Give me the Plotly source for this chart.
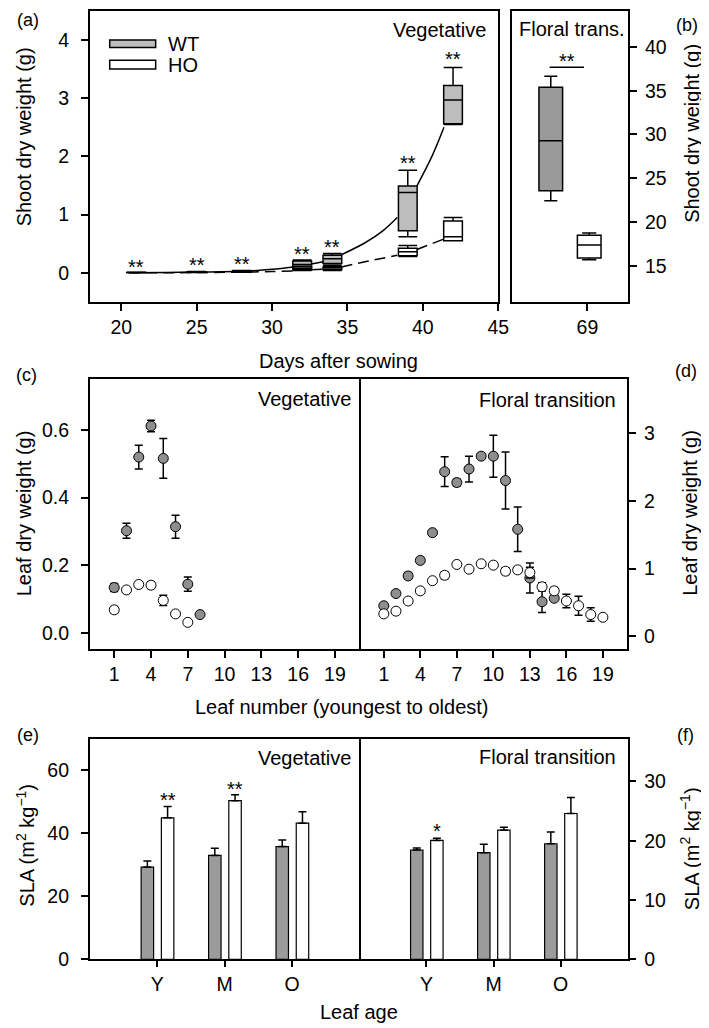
import plotly.graph_objects as go

W, H = 709, 1028
FONT = "Liberation Sans, Arial, sans-serif"


def px(x):
    return x / W


def py(y):
    return 1 - y / H


# ---------------- data ----------------
# (a) vegetative shoot dry weight (g), box statistics per day after sowing
a_days = [21, 25, 28, 32, 34, 39, 42]
a_wt_low = [0.003, 0.012, 0.025, 0.07, 0.15, 0.62, 2.55]
a_wt_q1 = [0.004, 0.014, 0.028, 0.08, 0.16, 0.72, 2.56]
a_wt_med = [0.005, 0.016, 0.032, 0.14, 0.24, 1.38, 2.97]
a_wt_q3 = [0.006, 0.018, 0.036, 0.20, 0.30, 1.49, 3.22]
a_wt_high = [0.007, 0.020, 0.040, 0.22, 0.33, 1.76, 3.53]
a_ho_low = [0.002, 0.005, 0.010, 0.04, 0.04, 0.28, 0.55]
a_ho_q1 = [0.002, 0.006, 0.011, 0.05, 0.05, 0.29, 0.55]
a_ho_med = [0.003, 0.006, 0.013, 0.07, 0.08, 0.36, 0.62]
a_ho_q3 = [0.003, 0.007, 0.015, 0.10, 0.10, 0.42, 0.89]
a_ho_high = [0.004, 0.008, 0.016, 0.11, 0.12, 0.47, 0.95]
a_sig_y = [0.186, 0.215, 0.244, 0.414, 0.526, 1.967, 3.76]

# fitted growth curves (hidden where they pass behind boxes)
fit_wt_days = [20.5, 23, 25, 28, 30, 31.4, None, 32.6, 33.4, None, 34.6, 36.2, 37.3, 38.3, None, 39.6, 40.6, 41.4]
fit_wt_vals = [0.0, 0.005, 0.012, 0.025, 0.06, 0.10, None, 0.15, 0.19, None, 0.31, 0.52, 0.71, 0.95, None, 1.49, 2.0, 2.5]
fit_ho_days = [20.5, 25, 28, 30, 31.4, None, 32.6, 33.4, None, 34.6, 36.4, 38.3, None, 39.6, 41.4]
fit_ho_vals = [0.0, 0.003, 0.01, 0.02, 0.03, None, 0.05, 0.06, None, 0.10, 0.20, 0.30, None, 0.40, 0.58]

# (b) floral transition shoot dry weight (g), day 69
b_pos = [68.37, 69.03]
b_low = [22.45, 15.7]
b_q1 = [23.57, 15.9]
b_med = [29.3, 17.4]
b_q3 = [35.4, 18.5]
b_high = [36.65, 18.76]
b_sig_x = [68.35, 68.94]
b_sig_y = [37.67, 37.67]

# (c) vegetative leaf dry weight (g)
c_wt_leaf = [1, 2, 3, 4, 5, 6, 7, 8]
c_wt_val = [0.134, 0.302, 0.52, 0.612, 0.516, 0.314, 0.144, 0.054]
c_wt_err = [0.012, 0.022, 0.035, 0.017, 0.059, 0.034, 0.021, 0.005]
c_ho_leaf = [1, 2, 3, 4, 5, 6, 7]
c_ho_val = [0.068, 0.127, 0.143, 0.141, 0.096, 0.056, 0.031]
c_ho_err = [0.010, 0.005, 0.008, 0.010, 0.015, 0.005, 0.004]

# (d) floral transition leaf dry weight (g)
d_wt_leaf = list(range(1, 16))
d_wt_val = [0.45, 0.63, 0.89, 1.12, 1.53, 2.43, 2.27, 2.47, 2.66, 2.66, 2.30, 1.58, 0.86, 0.51, 0.56]
d_wt_err = [0.03, 0.04, 0.05, 0.03, 0.03, 0.22, 0.05, 0.19, 0.03, 0.31, 0.42, 0.33, 0.22, 0.16, 0.03]
d_ho_leaf = list(range(1, 20))
d_ho_val = [0.33, 0.37, 0.52, 0.67, 0.82, 0.90, 1.06, 0.99, 1.07, 1.05, 0.96, 0.98, 0.94, 0.73, 0.67, 0.52, 0.45, 0.32, 0.28]
d_ho_err = [0.02, 0.02, 0.02, 0.02, 0.02, 0.05, 0.03, 0.02, 0.02, 0.02, 0.05, 0.04, 0.08, 0.06, 0.05, 0.10, 0.14, 0.10, 0.02]

# (e)/(f) SLA (m2 kg-1) by leaf age
ages = ["Y", "M", "O"]
e_wt = [29.2, 32.9, 35.7]
e_wt_err = [1.9, 2.3, 2.1]
e_ho = [44.8, 50.2, 43.1]
e_ho_err = [3.6, 1.9, 3.6]
e_sig = ["**", "**", ""]
e_sig_y = [52.1, 55.5, 0]
f_wt = [18.45, 18.0, 19.5]
f_wt_err = [0.35, 1.4, 2.0]
f_ho = [20.06, 21.8, 24.6]
f_ho_err = [0.35, 0.5, 2.7]
f_sig = ["*", "", ""]
f_sig_y = [22.5, 0, 0]

# ---------------- styles ----------------
GREY_BOX_A = "#bdbdbd"
GREY_BOX_B = "#9a9a9a"
GREY_MARK = "#8e8e8e"
GREY_BAR = "#9b9b9b"
LW = 1.5

fig = go.Figure()

# (a) boxes
fig.add_trace(go.Box(x=a_days, q1=a_wt_q1, median=a_wt_med, q3=a_wt_q3,
                     lowerfence=a_wt_low, upperfence=a_wt_high, width=1.24,
                     fillcolor=GREY_BOX_A, line=dict(color="black", width=LW),
                     whiskerwidth=1, boxpoints=False, showlegend=False,
                     xaxis="x", yaxis="y"))
fig.add_trace(go.Box(x=a_days, q1=a_ho_q1, median=a_ho_med, q3=a_ho_q3,
                     lowerfence=a_ho_low, upperfence=a_ho_high, width=1.24,
                     fillcolor="white", line=dict(color="black", width=LW),
                     whiskerwidth=1, boxpoints=False, showlegend=False,
                     xaxis="x", yaxis="y"))
fig.add_trace(go.Scatter(x=fit_wt_days, y=fit_wt_vals, mode="lines",
                         line=dict(color="black", width=1.5, shape="spline"),
                         connectgaps=False, showlegend=False, xaxis="x", yaxis="y"))
fig.add_trace(go.Scatter(x=fit_ho_days, y=fit_ho_vals, mode="lines",
                         line=dict(color="black", width=1.5, shape="spline", dash="11px,6px"),
                         connectgaps=False, showlegend=False, xaxis="x", yaxis="y"))

# (b) boxes
fig.add_trace(go.Box(x=[b_pos[0]], q1=[b_q1[0]], median=[b_med[0]], q3=[b_q3[0]],
                     lowerfence=[b_low[0]], upperfence=[b_high[0]], width=0.406,
                     fillcolor=GREY_BOX_B, line=dict(color="black", width=LW),
                     whiskerwidth=0.55, boxpoints=False, showlegend=False,
                     xaxis="x2", yaxis="y2"))
fig.add_trace(go.Box(x=[b_pos[1]], q1=[b_q1[1]], median=[b_med[1]], q3=[b_q3[1]],
                     lowerfence=[b_low[1]], upperfence=[b_high[1]], width=0.406,
                     fillcolor="white", line=dict(color="black", width=LW),
                     whiskerwidth=0.6, boxpoints=False, showlegend=False,
                     xaxis="x2", yaxis="y2"))
fig.add_trace(go.Scatter(x=b_sig_x, y=b_sig_y, mode="lines",
                         line=dict(color="black", width=1.5),
                         showlegend=False, xaxis="x2", yaxis="y2"))


def pts(x, y, err, color, xa, ya):
    return go.Scatter(x=x, y=y, mode="markers",
                      marker=dict(size=10, color=color, line=dict(color="black", width=1)),
                      error_y=dict(type="data", array=err, color="black", thickness=1.5, width=4),
                      showlegend=False, xaxis=xa, yaxis=ya)


fig.add_trace(pts(c_wt_leaf, c_wt_val, c_wt_err, GREY_MARK, "x3", "y3"))
fig.add_trace(pts(c_ho_leaf, c_ho_val, c_ho_err, "white", "x3", "y3"))
fig.add_trace(pts(d_wt_leaf, d_wt_val, d_wt_err, GREY_MARK, "x4", "y4"))
fig.add_trace(pts(d_ho_leaf, d_ho_val, d_ho_err, "white", "x4", "y4"))


def bars(y, err, color, offset, xa, ya):
    return go.Bar(x=ages, y=y, width=0.185, offset=offset,
                  marker=dict(color=color, line=dict(color="black", width=1.2)),
                  error_y=dict(type="data", array=err, arrayminus=[0] * len(err),
                               symmetric=False, color="black", thickness=1.5, width=4),
                  showlegend=False, xaxis=xa, yaxis=ya)


fig.add_trace(bars(e_wt, e_wt_err, GREY_BAR, -0.2375, "x5", "y5"))
fig.add_trace(bars(e_ho, e_ho_err, "white", 0.0625, "x5", "y5"))
fig.add_trace(bars(f_wt, f_wt_err, GREY_BAR, -0.2375, "x6", "y6"))
fig.add_trace(bars(f_ho, f_ho_err, "white", 0.0625, "x6", "y6"))

# ---------------- axes ----------------
tickfont = dict(family=FONT, size=19.5, color="black")


def ax(**kw):
    base = dict(showline=True, linecolor="black", linewidth=LW, mirror=True,
                ticks="outside", ticklen=7, tickwidth=LW, tickcolor="black",
                showgrid=False, zeroline=False, tickfont=tickfont,
                ticklabelstandoff=0)
    base.update(kw)
    return base


ya_dom = [py(297), py(3)]
yc_dom = [py(648), py(375)]
ye_dom = [py(961.7), py(739.3)]

fig.update_layout(
    xaxis=ax(domain=[px(83), px(498)], range=[17.91, 45], tickvals=[20, 25, 30, 35, 40, 45], anchor="y"),
    yaxis=ax(domain=ya_dom, range=[-0.5, 4.5], tickvals=[0, 1, 2, 3, 4], anchor="x", ticklabelstandoff=8),
    xaxis2=ax(domain=[px(511.7), px(630)], range=[67.7, 69.7], tickvals=[69], anchor="y2"),
    yaxis2=ax(domain=ya_dom, range=[10.9, 44.1], tickvals=[15, 20, 25, 30, 35, 40], side="right", anchor="x2",
              ticklabelstandoff=4),
    xaxis3=ax(domain=[px(83), px(357)], range=[-1, 21], tickvals=[1, 4, 7, 10, 13, 16, 19], anchor="y3"),
    yaxis3=ax(domain=yc_dom, range=[-0.048, 0.751], tickvals=[0, 0.2, 0.4, 0.6], tickformat=".1f", anchor="x3",
              ticklabelstandoff=8),
    xaxis4=ax(domain=[px(357), px(629)], range=[-1, 21], tickvals=[1, 4, 7, 10, 13, 16, 19], anchor="y4"),
    yaxis4=ax(domain=yc_dom, range=[-0.19, 3.8], tickvals=[0, 1, 2, 3], side="right", anchor="x4",
              mirror=False, ticklabelstandoff=4),
    xaxis5=ax(domain=[px(83), px(357)], range=[-1, 3], type="category", anchor="y5", ticklen=6),
    yaxis5=ax(domain=ye_dom, range=[0, 69.6], tickvals=[0, 20, 40, 60], anchor="x5", ticklabelstandoff=8),
    xaxis6=ax(domain=[px(357), px(629.3)], range=[-1, 3], type="category", anchor="y6", ticklen=6),
    yaxis6=ax(domain=ye_dom, range=[0, 37.1], tickvals=[0, 10, 20, 30], side="right", anchor="x6",
              mirror=False, ticklabelstandoff=4),
    width=W, height=H,
    margin=dict(l=0, r=0, t=0, b=0),
    paper_bgcolor="white", plot_bgcolor="white",
    boxmode="overlay", barmode="overlay",
    font=dict(family=FONT, size=20, color="black"),
)

# ---------------- annotations ----------------
ann = []


def text(x, y, t, size=20, xanchor="center", angle=0, xref="paper", yref="paper", yshift=0):
    ann.append(dict(x=x, y=y, text=t, xref=xref, yref=yref, showarrow=False,
                    xanchor=xanchor, yanchor="middle", textangle=angle, yshift=yshift,
                    font=dict(family=FONT, size=size, color="black")))


# panel labels
text(px(20), py(12), "(a)", 18)
text(px(690), py(17), "(b)", 18)
text(px(19), py(371), "(c)", 18)
text(px(689), py(367), "(d)", 18)
text(px(20), py(735), "(e)", 18)
text(px(688), py(735), "(f)", 18)

# axis titles
text(px(16), py(130), "Shoot dry weight (g)", angle=-90)
text(px(694), py(127), "Shoot dry weight (g)", angle=-90)
text(px(336), py(357), "Days after sowing")
text(px(16), py(511), "Leaf dry weight (g)", angle=-90)
text(px(692), py(510), "Leaf dry weight (g)", angle=-90)
text(px(339), py(707), "Leaf number (youngest to oldest)")
text(px(18), py(846), "SLA (m<sup>2</sup> kg<sup>−1</sup>)", angle=-90)
text(px(693), py(850), "SLA (m<sup>2</sup> kg<sup>−1</sup>)", angle=-90)
text(px(357), py(1015), "Leaf age")

# stage labels
text(px(488), py(22), "Vegetative", xanchor="right")
text(px(573), py(21), "Floral trans.")
text(px(350), py(395), "Vegetative", xanchor="right")
text(px(620), py(396), "Floral transition", xanchor="right")
text(px(350), py(758), "Vegetative", xanchor="right")
text(px(620), py(757), "Floral transition", xanchor="right")

# significance marks
for d, yv in zip(a_days, a_sig_y):
    text(d, yv, "**", xref="x", yref="y", yshift=-5)
text(68.65, 38.99, "**", xref="x2", yref="y2", yshift=-5)
for i, (s, yv) in enumerate(zip(e_sig, e_sig_y)):
    if s:
        text(i + 0.155, yv, s, xref="x5", yref="y5", yshift=-5)
for i, (s, yv) in enumerate(zip(f_sig, f_sig_y)):
    if s:
        text(i + 0.155, yv, s, xref="x6", yref="y6", yshift=-5)

# legend (panel a)
text(px(160), py(36), "WT", xanchor="left")
text(px(160), py(57.5), "HO", xanchor="left")
shapes = [
    dict(type="rect", xref="paper", yref="paper", x0=px(103.3), x1=px(150), y0=py(40), y1=py(32.3),
         fillcolor=GREY_BOX_A, line=dict(color="black", width=LW)),
    dict(type="rect", xref="paper", yref="paper", x0=px(103.3), x1=px(150), y0=py(61.7), y1=py(52.7),
         fillcolor="white", line=dict(color="black", width=LW)),
]

fig.update_layout(annotations=ann, shapes=shapes)
fig.write_html("out.html")
